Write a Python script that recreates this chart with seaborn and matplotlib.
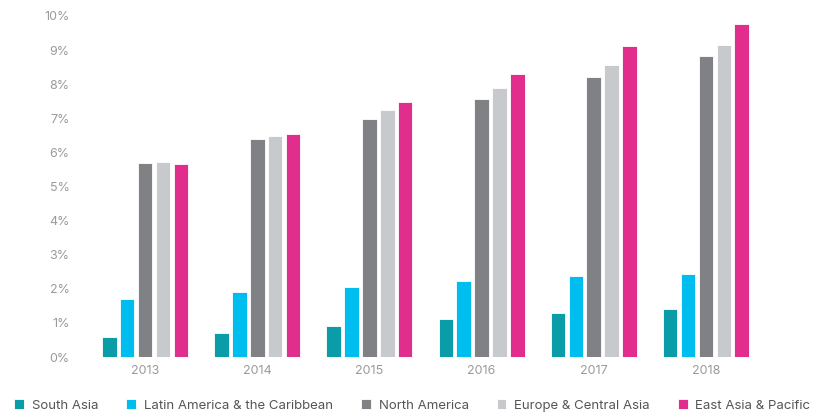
import matplotlib
matplotlib.use("Agg")
import matplotlib.pyplot as plt
import seaborn as sns
import pandas as pd

years = ["2013", "2014", "2015", "2016", "2017", "2018"]
south_asia = [0.60, 0.70, 0.90, 1.10, 1.30, 1.40]
latin_america = [1.70, 1.90, 2.06, 2.24, 2.38, 2.42]
north_america = [5.68, 6.38, 6.98, 7.58, 8.20, 8.82]
europe_central_asia = [5.71, 6.47, 7.23, 7.90, 8.56, 9.15]
east_asia_pacific = [5.65, 6.55, 7.47, 8.31, 9.12, 9.78]

regions = ["South Asia", "Latin America & the Caribbean", "North America",
           "Europe & Central Asia", "East Asia & Pacific"]
colors = ["#0a9ca7", "#00bdf0", "#808184", "#c8c9cc", "#e12e8c"]
y_ticks = [0, 1, 2, 3, 4, 5, 6, 7, 8, 9, 10]

series = [south_asia, latin_america, north_america, europe_central_asia, east_asia_pacific]
rows = []
for reg, vals in zip(regions, series):
    for yr, v in zip(years, vals):
        rows.append({"year": yr, "region": reg, "value": v})
df = pd.DataFrame(rows)

sns.set_style("white")
plt.rcParams["font.family"] = ["Inter", "DejaVu Sans"]

fig = plt.figure(figsize=(8.17, 4.12), dpi=100)
ax = fig.add_axes([78 / 817, 1 - 357 / 412, (773 - 78) / 817, (357 - 16) / 412])

sns.barplot(data=df, x="year", y="value", hue="region", hue_order=regions,
            palette=colors, saturation=1, width=0.8, gap=0.2, edgecolor="white",
            linewidth=0.6, ax=ax, legend=True)

ax.set_xlim(-0.6, 5.6)
ax.set_ylim(0, 10)
ax.set_yticks(y_ticks)
ax.set_yticklabels([f"{t}%" for t in y_ticks])
ax.set_xlabel("")
ax.set_ylabel("")
for s in ax.spines.values():
    s.set_visible(False)
ax.tick_params(axis="both", length=0, colors="#9a9a9a", labelsize=9)
ax.tick_params(axis="y", pad=6)
ax.tick_params(axis="x", pad=6)

handles, labels = ax.get_legend_handles_labels()
ax.get_legend().remove()
leg = fig.legend(handles, labels, loc="lower left", bbox_to_anchor=(0.003, -0.028),
                 ncol=5, frameon=False, fontsize=9.5, handlelength=0.75,
                 handleheight=0.75, handletextpad=0.6, columnspacing=2.1,
                 labelcolor="#555555")

fig.savefig("out.png", dpi=100)
